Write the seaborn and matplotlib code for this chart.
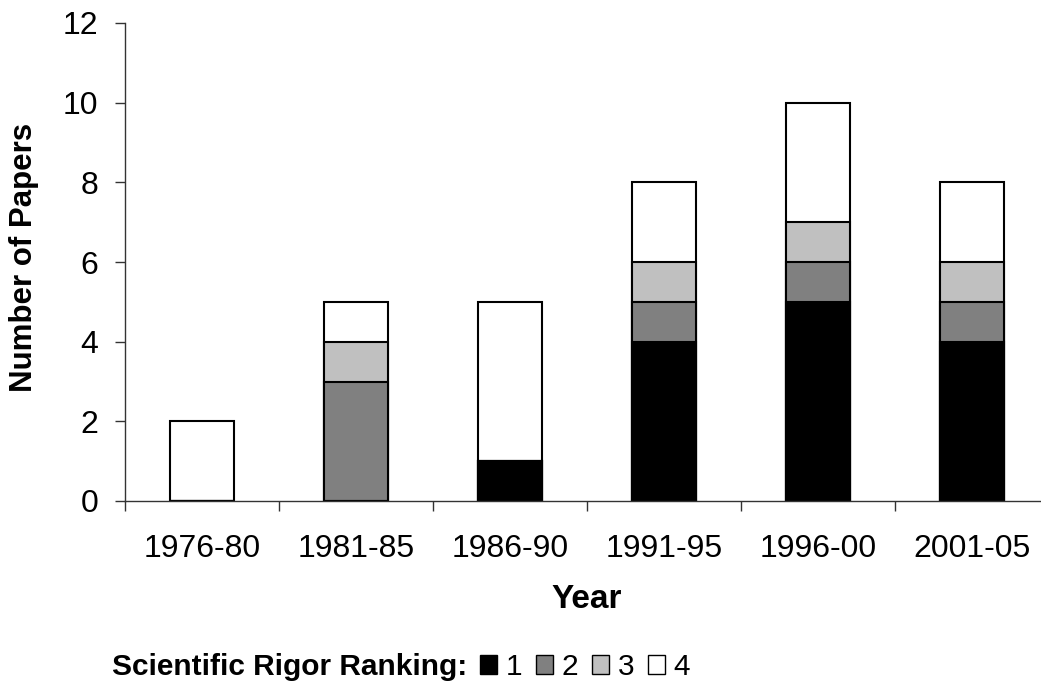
import numpy as np
import pandas as pd
import seaborn as sns
import matplotlib.pyplot as plt
from matplotlib.patches import Patch

# Data
years = ["1976-80", "1981-85", "1986-90", "1991-95", "1996-00", "2001-05"]
rank1 = [0, 0, 1, 4, 5, 4]
rank2 = [0, 3, 0, 1, 1, 1]
rank3 = [0, 1, 0, 1, 1, 1]
rank4 = [2, 1, 4, 2, 3, 2]
ranks = ["1", "2", "3", "4"]
colors = ["#000000", "#808080", "#c0c0c0", "#ffffff"]

sns.set_style("white")
plt.rcParams["font.family"] = ["Liberation Sans", "DejaVu Sans"]
plt.rcParams.update({"text.color": "black", "axes.labelcolor": "black",
                     "xtick.color": "black", "ytick.color": "black"})

df = pd.DataFrame({"Year": years, "1": rank1, "2": rank2, "3": rank3, "4": rank4})
# cumulative heights so the bars can be drawn back to front
cum = df[ranks].cumsum(axis=1)

fig = plt.figure(figsize=(10.41, 6.86), dpi=100)
ax = fig.add_axes([125 / 1041, 185 / 686, 924 / 1041, 478 / 686])

for r, c in reversed(list(zip(ranks, colors))):
    sns.barplot(x=df["Year"], y=cum[r], color=c, edgecolor="black",
                linewidth=1.5, width=0.41, saturation=1, ax=ax)

ax.set_ylim(0, 12)
ax.set_xlim(-0.5, len(years) - 0.5)
ax.set_yticks(range(0, 13, 2))
ax.tick_params(axis="y", labelsize=23, length=7, width=1, direction="out",
               left=True, pad=12, color="#333333")
ax.tick_params(axis="x", which="major", labelsize=23, length=0, pad=24)
ax.set_xticks(np.arange(-0.5, len(years), 1), minor=True)
ax.tick_params(axis="x", which="minor", length=7, width=1, bottom=True,
               direction="out", color="#333333")

for s in ["top", "right"]:
    ax.spines[s].set_visible(False)
for s in ["left", "bottom"]:
    ax.spines[s].set_color("#333333")
    ax.spines[s].set_linewidth(1)

ax.set_ylabel("Number of Papers", fontsize=22.5, fontweight="bold")
ax.yaxis.set_label_coords(-86 / 924, 0.51)
ax.set_xlabel("")
fig.text(587 / 1041, 1 - 600 / 686, "Year", fontsize=24, fontweight="bold",
         ha="center", va="center")

# legend: bold caption followed by the four swatches
fig.text(112 / 1041, 1 - 667 / 686, "Scientific Rigor Ranking:", fontsize=21.5,
         fontweight="bold", ha="left", va="center")
handles = [Patch(facecolor=c, edgecolor="black", linewidth=1) for c in colors]
fig.legend(handles, ranks, loc="center left", bbox_to_anchor=(480 / 1041, 1 - 667 / 686),
           ncol=4, frameon=False, fontsize=21.5, handlelength=0.58, handleheight=0.58,
           handletextpad=0.27, columnspacing=0.47, borderpad=0, borderaxespad=0)

fig.savefig("out.png", dpi=100)
